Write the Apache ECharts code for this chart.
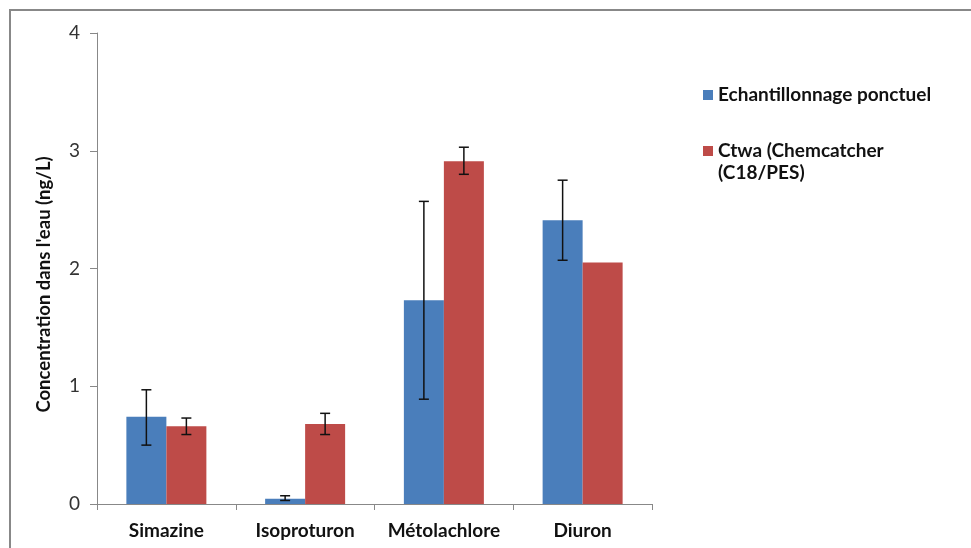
<!DOCTYPE html>
<html>
<head>
<meta charset="utf-8">
<script src="https://cdn.jsdelivr.net/npm/echarts@6/dist/echarts.min.js"></script>
<style>
html,body{margin:0;padding:0;background:#fff;}
#c{width:971px;height:548px;}
</style>
</head>
<body>
<div id="c"></div>
<script>
var categories = ['Simazine', 'Isoproturon', 'Métolachlore', 'Diuron'];
var seriesNames = ['Echantillonnage ponctuel', 'Ctwa (Chemcatcher\n(C18/PES)'];
var ponctuel = [0.74, 0.045, 1.73, 2.41];
var ponctuelLow = [0.50, 0.03, 0.89, 2.07];
var ponctuelHigh = [0.97, 0.07, 2.57, 2.75];
var ctwa = [0.66, 0.68, 2.91, 2.05];
var ctwaLow = [0.59, 0.59, 2.80, null];
var ctwaHigh = [0.73, 0.77, 3.03, null];
var yTicks = [0, 1, 2, 3, 4];

var BLUE = '#4A7EBB';
var RED = '#BE4B48';
var BAR_W = 40;
var FONT = 'Lato';

function errData(low, high) {
  var out = [];
  for (var i = 0; i < categories.length; i++) {
    if (low[i] == null || high[i] == null) continue;
    out.push([i, low[i], high[i]]);
  }
  return out;
}

function errSeries(low, high, offsetSign) {
  return {
    type: 'custom',
    silent: true,
    z: 5,
    data: errData(low, high),
    encode: { x: 0, y: [1, 2] },
    renderItem: function (params, api) {
      var ci = api.value(0);
      var lo = api.coord([ci, api.value(1)]);
      var hi = api.coord([ci, api.value(2)]);
      var x = lo[0] + offsetSign * BAR_W / 2;
      var cap = 5;
      var st = { stroke: '#111', lineWidth: 1.5 };
      return {
        type: 'group',
        children: [
          { type: 'line', shape: { x1: x, y1: lo[1], x2: x, y2: hi[1] }, style: st },
          { type: 'line', shape: { x1: x - cap, y1: lo[1], x2: x + cap, y2: lo[1] }, style: st },
          { type: 'line', shape: { x1: x - cap, y1: hi[1], x2: x + cap, y2: hi[1] }, style: st }
        ]
      };
    }
  };
}

var legendText = { fontFamily: FONT, fontWeight: 'bold', fontSize: 19, color: '#111', lineHeight: 22 };

var chart = echarts.init(document.getElementById('c'), null, { renderer: 'canvas' });
chart.setOption({
  animation: false,
  backgroundColor: '#fff',
  graphic: [{
    type: 'rect',
    shape: { x: 10, y: 10, width: 1000, height: 600 },
    style: { fill: null, stroke: '#888', lineWidth: 2 },
    silent: true
  }],
  grid: { left: 97, top: 33, right: 319, bottom: 44 },
  legend: [{
    data: [seriesNames[0]],
    orient: 'vertical',
    left: 698, top: 79,
    itemWidth: 10, itemHeight: 10,
    icon: 'rect',
    textStyle: legendText
  }, {
    data: [seriesNames[1]],
    orient: 'vertical',
    left: 698, top: 113,
    itemWidth: 10, itemHeight: 10,
    icon: 'rect',
    formatter: function (name) { return ' \n' + name; },
    textStyle: legendText
  }],
  xAxis: {
    type: 'category',
    data: categories,
    axisLine: { lineStyle: { color: '#888', width: 1 } },
    axisTick: { show: true, length: 6, lineStyle: { color: '#888' } },
    axisLabel: { interval: 0, fontFamily: FONT, fontWeight: 'bold', fontSize: 19, color: '#111', margin: 17 }
  },
  yAxis: {
    type: 'value',
    min: 0, max: 4, interval: 1,
    name: "Concentration dans l'eau (ng/L)",
    nameLocation: 'middle',
    nameGap: 43,
    nameTextStyle: { fontFamily: FONT, fontWeight: 'bold', fontSize: 18.5, color: '#111', padding: [0, 32, 0, 0] },
    axisLine: { show: true, lineStyle: { color: '#888', width: 1 } },
    axisTick: { show: true, length: 7, lineStyle: { color: '#888' } },
    splitLine: { show: false },
    axisLabel: {
      fontFamily: FONT, fontSize: 19, color: '#333', margin: 17,
      formatter: function (v) { return yTicks.indexOf(v) >= 0 ? String(v) : ''; }
    }
  },
  series: [{
    name: seriesNames[0],
    type: 'bar',
    data: ponctuel,
    barWidth: BAR_W,
    barGap: '0%',
    itemStyle: { color: BLUE }
  }, {
    name: seriesNames[1],
    type: 'bar',
    data: ctwa,
    barWidth: BAR_W,
    barGap: '0%',
    itemStyle: { color: RED }
  },
  errSeries(ponctuelLow, ponctuelHigh, -1),
  errSeries(ctwaLow, ctwaHigh, 1)
  ]
});
</script>
</body>
</html>
